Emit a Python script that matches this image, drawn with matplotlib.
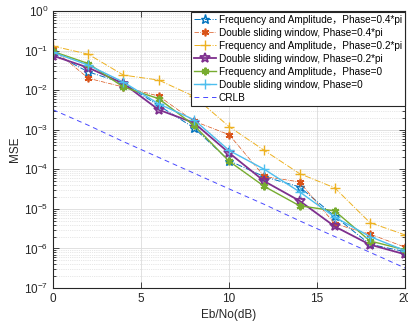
import numpy as np
import matplotlib as mpl
mpl.use('Agg')
import matplotlib.pyplot as plt
from matplotlib.ticker import LogLocator, NullFormatter, MultipleLocator

ebno = [0, 2, 4, 6, 8, 10, 12, 14, 16, 18, 20]

# MSE
fa_04 = [0.085, 0.029, 0.015, 0.0041, 0.00112, 1.65e-4, 6.5e-5, 3.6e-5, 6.5e-6, 1.28e-6, 8.3e-7]
dsw_04 = [0.11, 0.020, 0.012, 0.0071, 0.00165, 7.5e-4, 6.6e-5, 4.8e-5, 4.2e-6, 2.3e-6, 1.08e-6]
fa_02 = [0.13, 0.081, 0.024, 0.018, 0.007, 0.0012, 3.0e-4, 7.8e-5, 3.4e-5, 4.5e-6, 2.2e-6]
dsw_02 = [0.074, 0.037, 0.0147, 0.0032, 0.0015, 2.6e-4, 5.0e-5, 1.6e-5, 3.6e-6, 1.25e-6, 7.1e-7]
fa_0 = [0.095, 0.047, 0.012, 0.0061, 0.0013, 1.6e-4, 3.7e-5, 1.2e-5, 8.9e-6, 1.55e-6, 9.2e-7]
dsw_0 = [0.09, 0.043, 0.016, 0.0045, 0.0018, 3.0e-4, 1.0e-4, 2.7e-5, 6.2e-6, 2.0e-6, 8.8e-7]
crlb = [3.2e-3, 1.3e-3, 5.0e-4, 2.0e-4, 8.0e-5, 3.2e-5, 1.3e-5, 5.0e-6, 2.0e-6, 8.0e-7, 3.2e-7]

labels = ['Frequency and Amplitude，Phase=0.4*pi',
          'Double sliding window, Phase=0.4*pi',
          'Frequency and Amplitude，Phase=0.2*pi',
          'Double sliding window, Phase=0.2*pi',
          'Frequency and Amplitude，Phase=0',
          'Double sliding window, Phase=0',
          'CRLB']

plt.rcParams['font.family'] = ['Liberation Sans', 'Noto Sans CJK SC', 'DejaVu Sans']
plt.rcParams['mathtext.fontset'] = 'custom'
plt.rcParams['mathtext.rm'] = 'Liberation Sans'
plt.rcParams['mathtext.it'] = 'Liberation Sans'

fig = plt.figure(figsize=(4.08, 3.24), dpi=100)
ax = fig.add_axes([0.130, 0.111, 0.863, 0.855])

star = '*'
aster = (6, 2, 0)
ax.plot(ebno, fa_04, '-.', color='#0072BD', marker=star, mfc='none', ms=6.5, mew=1.0, lw=0.7, label=labels[0])
ax.plot(ebno, dsw_04, '-.', color='#D95319', marker=aster, ms=5.5, mew=1.2, lw=0.5, label=labels[1])
ax.plot(ebno, fa_02, '-.', color='#EDB120', marker='+', ms=7, mew=1.0, lw=0.7, label=labels[2])
ax.plot(ebno, dsw_02, '-', color='#7E2F8E', marker=star, mfc='none', ms=7, mew=1.3, lw=1.3, label=labels[3])
ax.plot(ebno, fa_0, '-', color='#77AC30', marker=aster, ms=5.5, mew=1.5, lw=1.0, label=labels[4])
ax.plot(ebno, dsw_0, '-', color='#4DBEEE', marker='+', ms=7, mew=1.0, lw=1.0, label=labels[5])
ax.plot(ebno, crlb, '--', color='#4848FF', lw=0.7, dashes=(5, 4), label=labels[6])

ax.set_yscale('log')
ax.set_xlim(0, 20)
ax.set_ylim(1e-7, 1)
ax.xaxis.set_major_locator(MultipleLocator(5))
ax.yaxis.set_major_locator(LogLocator(base=10, numticks=20))
ax.yaxis.set_minor_locator(LogLocator(base=10, subs=np.arange(2, 10), numticks=20))
ax.yaxis.set_minor_formatter(NullFormatter())

ax.grid(True, which='major', color='#dcdcdc', lw=0.6, ls='-')
ax.grid(True, which='minor', axis='y', color='#d0d0d0', lw=0.5, ls=':')
ax.set_axisbelow(True)

gray = '#262626'
for s in ax.spines.values():
    s.set_color(gray)
    s.set_linewidth(0.8)
ax.tick_params(which='both', direction='in', top=True, right=True, colors=gray,
               labelsize=8.5, width=0.6)
ax.tick_params(which='major', length=4)
ax.tick_params(which='minor', length=2)

ax.set_xlabel('Eb/No(dB)', fontsize=8.5, color=gray, labelpad=3)
ax.set_ylabel('MSE', fontsize=8.5, color=gray, labelpad=2)

leg = ax.legend(loc='upper right', fontsize=7.2, frameon=True, fancybox=False,
                borderpad=0.3, labelspacing=0.3, handlelength=2.2, handletextpad=0.25,
                borderaxespad=0.05, framealpha=1)
leg.get_frame().set_edgecolor(gray)
leg.get_frame().set_linewidth(0.8)

fig.savefig('out.png', dpi=100)
